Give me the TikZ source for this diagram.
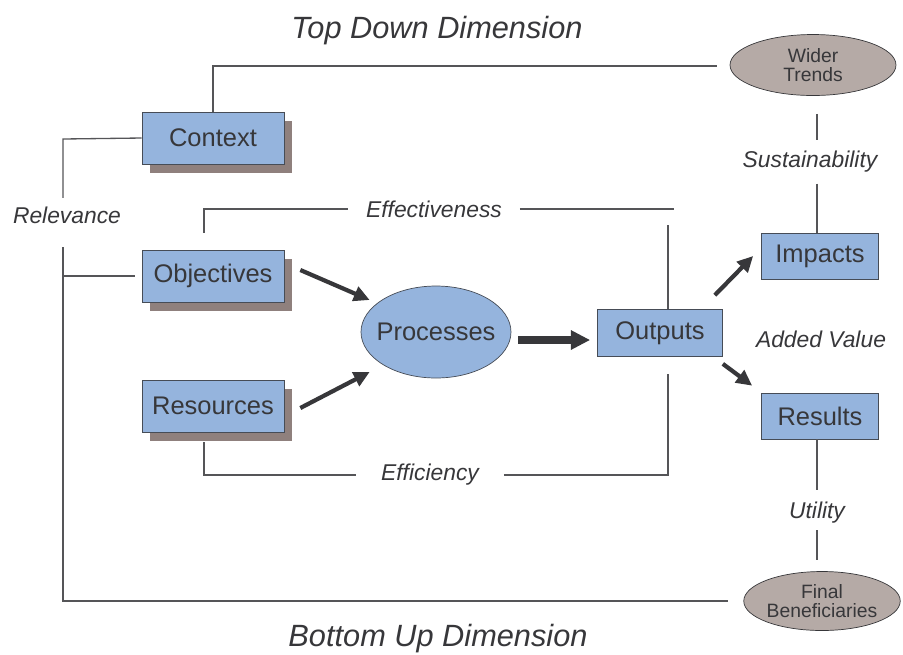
\documentclass[tikz,border=0pt]{standalone}
\usepackage{fontspec}
\setmainfont{Liberation Sans}
\usepackage{tikz}
\usetikzlibrary{arrows.meta,shapes,shadows,calc}
\usepackage{xcolor}
\definecolor{boxblue}{RGB}{149,180,221}
\definecolor{boxedge}{RGB}{70,76,86}
\definecolor{shadebrown}{RGB}{143,128,125}
\definecolor{ovalgray}{RGB}{181,170,166}
\definecolor{inkgray}{RGB}{55,55,58}
\tikzstyle{evalbox}=[draw=boxedge, fill=boxblue, text=inkgray, inner sep=0pt, font=\fontsize{14.5}{16}\selectfont]
\tikzstyle{shadedbox}=[evalbox, general shadow={fill=shadebrown, shadow xshift=4.5pt, shadow yshift=-5pt}]
\tikzstyle{greyoval}=[ellipse, draw=inkgray, fill=ovalgray, text=inkgray, inner sep=0pt, align=center, font=\fontsize{11}{10.8}\selectfont]
\tikzstyle{criterion}=[text=inkgray, inner ysep=2pt, inner xsep=10pt, font=\fontsize{13}{14}\selectfont\itshape]
\tikzstyle{conn}=[draw=inkgray!85, line width=.75pt]
\tikzstyle{flow}=[draw=inkgray, line width=2.4pt, -{Triangle[length=9pt,width=8.5pt]}]
\tikzstyle{bigflow}=[draw=inkgray, line width=4pt, -{Triangle[length=11pt,width=10.5pt]}]

\begin{document}
\begin{tikzpicture}[x=0.02cm, y=-0.02cm]
	\useasboundingbox (0,0) rectangle (903,654);
	% boxes
	\node[shadedbox, minimum width=2.84cm, minimum height=1.04cm] (ctx) at (213,138) {Context};
	\node[shadedbox, minimum width=2.84cm, minimum height=1.04cm] (obj) at (213,276) {Objectives};
	\node[shadedbox, minimum width=2.84cm, minimum height=1.04cm] (res) at (213,406) {Resources};
	\node[evalbox, ellipse, inner xsep=-4.5pt, minimum width=3cm, minimum height=1.84cm] (proc) at (436,332) {Processes};
	\node[evalbox, minimum width=2.5cm, minimum height=.94cm] (out) at (660,333) {Outputs};
	\node[evalbox, minimum width=2.34cm, minimum height=.92cm] (imp) at (820,256) {Impacts};
	\node[evalbox, minimum width=2.34cm, minimum height=.92cm] (rslt) at (820,416) {Results};
	\node[greyoval, minimum width=3.32cm, minimum height=1.22cm] (wider) at (813,65) {Wider\\Trends};
	\node[greyoval, minimum width=3.1cm, minimum height=1.18cm] (fin) at (822,601) {Final\\Beneficiaries};

	% headings and criteria
	\node[text=inkgray, font=\fontsize{17.5}{19}\selectfont\itshape] (topdim) at (437,31) {Top Down Dimension};
	\node[text=inkgray, font=\fontsize{17.5}{19}\selectfont\itshape] (botdim) at (438,639) {Bottom Up Dimension};
	\node[criterion, inner xsep=0pt] (rel) at (67,215) {Relevance};
	\node[criterion] (eff) at (434,209) {Effectiveness};
	\node[criterion, inner xsep=14pt] (effc) at (430,475) {Efficiency};
	\node[criterion, inner xsep=0pt, inner ysep=6pt] (sust) at (810,162) {Sustainability};
	\node[criterion, inner xsep=0pt, inner ysep=3.5pt] (util) at (817,513) {Utility};
	\node[criterion, inner xsep=0pt] (addv) at (821,339) {Added Value};

	\coordinate (relTop) at (63,139);
	\coordinate (relBot) at (63,601);
	\coordinate (effTop) at (668,211);
	\coordinate (rightX) at (817,0);

	% top down
	\draw[conn] (ctx.north) |- ($(wider.west)+(-13,1)$);
	\draw[conn] ($(rightX |- wider.south)+(0,18)$) -- (rightX |- sust.north);
	\draw[conn] (rightX |- sust.south) -- (rightX |- imp.north);
	% relevance
	\draw[conn] ($(relTop |- rel.north)+(0,-5)$) -- (relTop) -- (ctx.west);
	\draw[conn] ($(relTop |- rel.south)+(0,20)$) -- (relBot) -- ($(fin.west)+(-15,0)$);
	\draw[conn] (relTop |- obj.west) -- ($(obj.west)+(-7,0)$);
	% effectiveness and efficiency
	\draw[conn] ($(obj.north)+(-9,-17)$) |- (eff.west);
	\draw[conn] (eff.east) -- ($(eff.east -| effTop)+(6,0)$);
	\draw[conn] ($(effTop)+(0,14)$) -- (effTop |- out.north);
	\draw[conn] ($(res.south)+(-9,10)$) |- (effc.west);
	\draw[conn] (effc.east) -| ($(effTop |- out.south)+(0,17)$);
	% bottom up
	\draw[conn] (rightX |- rslt.south) -- ($(rightX |- util.north)+(0,-6)$);
	\draw[conn] (rightX |- util.south) -- ($(rightX |- fin.north)+(0,-11)$);

	% arrows
	\draw[flow] ($(obj.east)+(16,-6)$) -- ($(proc.west)+(9,-32)$);
	\draw[flow] ($(res.east)+(16,2)$) -- ($(proc.west)+(9,40)$);
	\draw[bigflow] ($(proc.east)+(7,8)$) -- ($(out.west)+(-7,7)$);
	\draw[flow] ($(out.north east)+(-8,-14)$) -- ($(imp.west)+(-8,0)$);
	\draw[flow] ($(out.south east)+(0,7)$) -- ($(rslt.north west)+(-9,-7)$);
\end{tikzpicture}
\end{document}
